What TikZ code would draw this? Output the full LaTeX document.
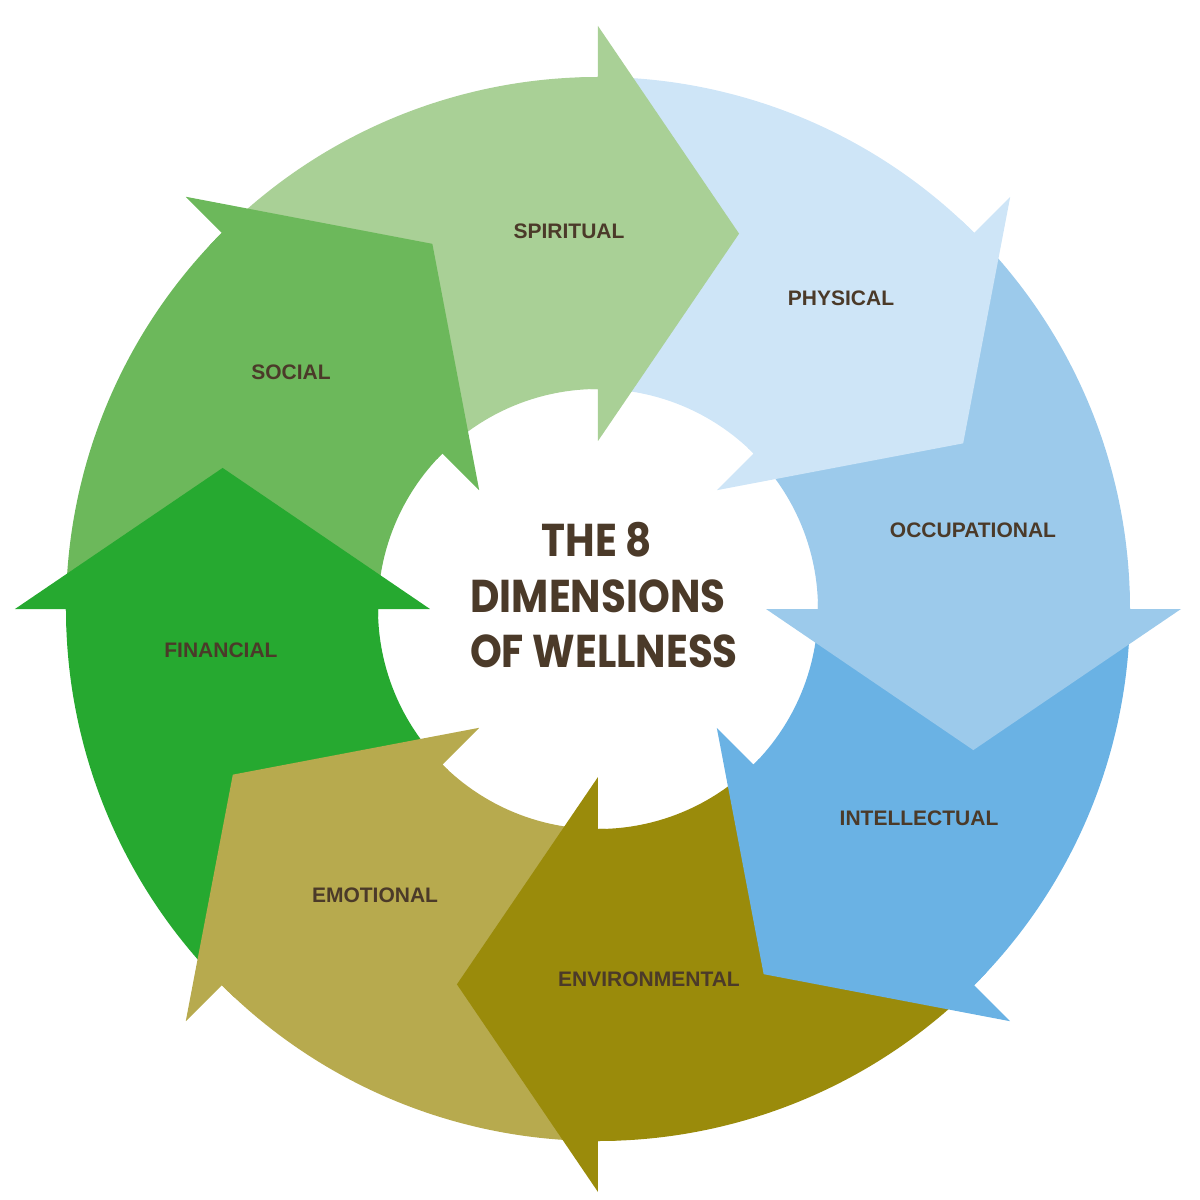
\documentclass[tikz,border=0pt]{standalone}
\usepackage{fontspec}
\setmainfont{Liberation Sans}
\newfontfamily\titlefont{Poppins}[FakeStretch=0.88]

\definecolor{spiritual}{HTML}{A9D096}
\definecolor{physical}{HTML}{CEE5F7}
\definecolor{occupational}{HTML}{9CCAEB}
\definecolor{intellectual}{HTML}{6AB2E4}
\definecolor{environmental}{HTML}{9A8B0B}
\definecolor{emotional}{HTML}{B7AA4E}
\definecolor{financial}{HTML}{26A930}
\definecolor{social}{HTML}{6CB85B}
\definecolor{textbrown}{HTML}{4B3A29}

\tikzset{
  dimlabel/.style={font=\bfseries\fontsize{21}{25}\selectfont, text=textbrown, inner sep=0pt},
  titleline/.style={font=\titlefont\bfseries\fontsize{46}{55}\selectfont, text=textbrown, inner sep=0pt, anchor=base}
}

\begin{document}
\begin{tikzpicture}[x=1pt,y=1pt]
\useasboundingbox (-598,-591) rectangle (602,609);

% ring segments
\foreach \a/\c in {135/spiritual, 90/physical, 45/occupational, 0/intellectual,
                   -45/environmental, -90/emotional, -135/financial, 180/social} {
  \fill[\c] (\a:220) -- (\a:532) arc[start angle=\a, end angle=\a-45, radius=532]
    -- ({\a-45}:220) arc[start angle=\a-45, end angle=\a, radius=220] -- cycle;
}
% arrow heads (with a thin strip of ring so no seam shows)
\foreach \a/\c in {90/spiritual, 45/physical, 0/occupational, -45/intellectual,
                   -90/environmental, -135/emotional, 180/financial, 135/social} {
  \fill[\c] ({\a+2}:220) arc[start angle=\a+2, end angle=\a, radius=220]
    -- (\a:168) -- ({\a-20.6}:401) -- (\a:583) -- (\a:532)
    arc[start angle=\a, end angle=\a+2, radius=532] -- cycle;
}

\node[dimlabel] (spiritual) at (-29,378) {SPIRITUAL};
\node[dimlabel] (physical) at (243,311) {PHYSICAL};
\node[dimlabel] (occupational) at (375,79) {OCCUPATIONAL};
\node[dimlabel] (intellectual) at (321,-209) {INTELLECTUAL};
\node[dimlabel] (environmental) at (51,-370) {ENVIRONMENTAL};
\node[dimlabel] (emotional) at (-223,-286) {EMOTIONAL};
\node[dimlabel] (financial) at (-377,-41) {FINANCIAL};
\node[dimlabel] (social) at (-307,237) {SOCIAL};

\node[titleline] (title1) at (-1,53) {THE 8};
\node[titleline] (title2) at (0,-3) {DIMENSIONS};
\node[titleline] (title3) at (6,-58) {OF WELLNESS};
\end{tikzpicture}
\end{document}
